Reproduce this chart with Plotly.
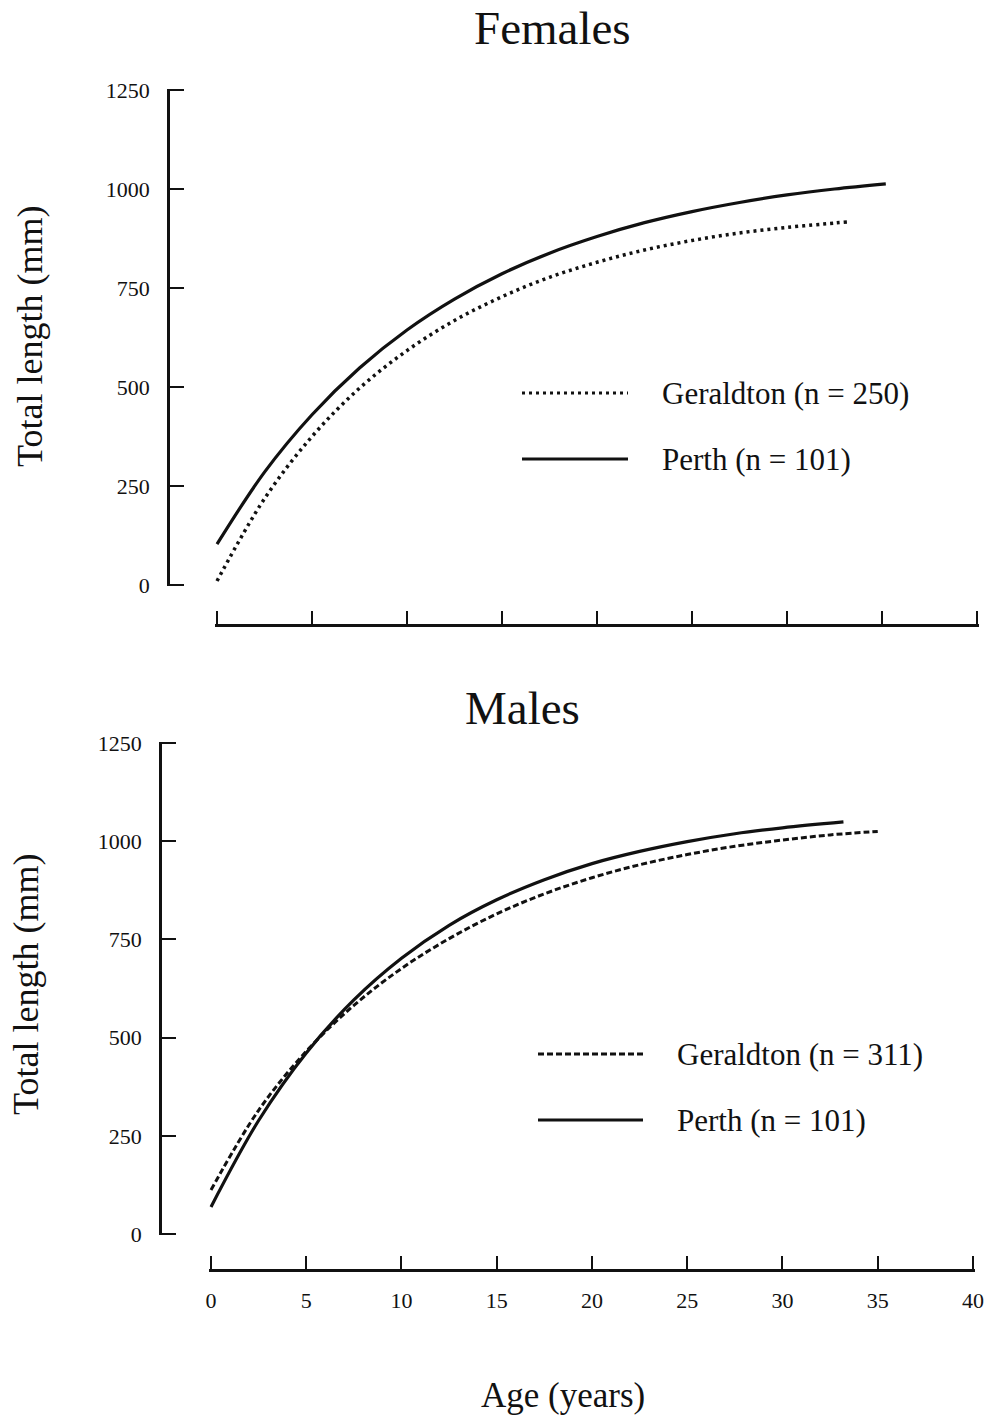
import plotly.graph_objects as go

# Page size in pixels
W, H = 993, 1419

# Ages (years) at which the fitted growth curves are listed
fem_perth_age = [0, 2.5, 5, 7.5, 10, 12.5, 15, 17.5, 20, 22.5, 25, 27.5, 30, 32.5, 35.2]
fem_perth_len = [103, 285, 430, 548, 644, 722, 786, 838, 880, 915, 943, 966, 985, 1000, 1013]

fem_geral_age = [0, 2.5, 5, 7.5, 10, 12.5, 15, 17.5, 20, 22.5, 25, 27.5, 30, 32.5, 33.2]
fem_geral_len = [10, 218, 375, 497, 592, 668, 728, 777, 815, 846, 870, 889, 903, 914, 917]

male_perth_age = [0, 2.5, 5, 7.5, 10, 12.5, 15, 17.5, 20, 22.5, 25, 27.5, 30, 33.2]
male_perth_len = [69, 289, 461, 596, 702, 786, 851, 902, 943, 974, 999, 1019, 1034, 1049]

male_geral_age = [0, 2.5, 5, 7.5, 10, 12.5, 15, 17.5, 20, 22.5, 25, 27.5, 30, 32.5, 35]
male_geral_len = [112, 315, 465, 582, 676, 752, 815, 866, 907, 940, 966, 987, 1003, 1016, 1025]

x_ticks = [0, 5, 10, 15, 20, 25, 30, 35, 40]
y_ticks = [0, 250, 500, 750, 1000, 1250]

fem_labels = ["Geraldton (n = 250)", "Perth (n = 101)"]
male_labels = ["Geraldton (n = 311)", "Perth (n = 101)"]

FONT = "Liberation Serif, Times New Roman, serif"
INK = "#111111"


def px_x(p):
    return p / W


def px_y(p):
    return 1 - p / H


fig = go.Figure()

# Females panel (x/y), Males panel (x2/y2)
fig.add_trace(go.Scatter(x=fem_geral_age, y=fem_geral_len, mode="lines",
                         line=dict(color=INK, width=3.5, dash="3px,4px", shape="spline"),
                         xaxis="x", yaxis="y", showlegend=False))
fig.add_trace(go.Scatter(x=fem_perth_age, y=fem_perth_len, mode="lines",
                         line=dict(color=INK, width=3.2, shape="spline"),
                         xaxis="x", yaxis="y", showlegend=False))
fig.add_trace(go.Scatter(x=male_geral_age, y=male_geral_len, mode="lines",
                         line=dict(color=INK, width=3, dash="6px,3px", shape="spline"),
                         xaxis="x2", yaxis="y2", showlegend=False))
fig.add_trace(go.Scatter(x=male_perth_age, y=male_perth_len, mode="lines",
                         line=dict(color=INK, width=3.2, shape="spline"),
                         xaxis="x2", yaxis="y2", showlegend=False))

tick_font = dict(family=FONT, size=22, color=INK)

# small padding on the ranges keeps the end ticks drawn
XPAD, YPAD = 0.1, 3.0
xcommon = dict(range=[-XPAD, 40 + XPAD], tickvals=x_ticks, ticks="inside", ticklen=13,
               tickwidth=2, tickcolor=INK, showline=True, linecolor=INK, linewidth=2.5,
               showgrid=False, zeroline=False, tickfont=tick_font, anchor="free",
               automargin=False)
ycommon = dict(range=[-YPAD, 1250 + YPAD], tickvals=y_ticks, ticks="inside", ticklen=14,
               tickwidth=2, tickcolor=INK, showline=True, linecolor=INK, linewidth=2.5,
               showgrid=False, zeroline=False, tickfont=tick_font, anchor="free",
               ticklabelstandoff=13, automargin=False)


def xdom(p0, p40):
    u = (p40 - p0) / 40.0
    return [px_x(p0 - XPAD * u), px_x(p40 + XPAD * u)]


def ydom(p0, p1250):
    u = (p0 - p1250) / 1250.0
    return [px_y(p0 + YPAD * u), px_y(p1250 - YPAD * u)]


fig.update_layout(
    template="none",
    width=W, height=H,
    margin=dict(l=0, r=0, t=0, b=0, pad=0),
    paper_bgcolor="white", plot_bgcolor="white",
    xaxis=dict(xcommon, domain=xdom(217, 977), position=px_y(625),
               showticklabels=False),
    yaxis=dict(ycommon, domain=ydom(585, 90), position=px_x(168)),
    xaxis2=dict(xcommon, domain=xdom(211, 973), position=px_y(1270),
                ticklabelstandoff=10),
    yaxis2=dict(ycommon, domain=ydom(1234, 743), position=px_x(160)),
)

# Legend keys drawn as short line samples beside text
legend_rows = [
    (522, 628, 393, 660, fem_labels[0], "3px,4px"),
    (522, 628, 459, 660, fem_labels[1], "solid"),
    (538, 643, 1054, 675, male_labels[0], "6px,3px"),
    (538, 643, 1120, 675, male_labels[1], "solid"),
]
for x0, x1, yy, tx, label, dash in legend_rows:
    fig.add_shape(type="line", xref="paper", yref="paper",
                  x0=px_x(x0), x1=px_x(x1), y0=px_y(yy), y1=px_y(yy),
                  line=dict(color=INK, width=3, dash=dash))
    fig.add_annotation(text=label, xref="paper", yref="paper",
                       x=px_x(tx), y=px_y(yy), xanchor="left", yanchor="middle",
                       showarrow=False, font=dict(family=FONT, size=31, color=INK))

# Panel titles and axis titles
texts = [
    ("Females", 552, 28, 0, 47),
    ("Males", 522, 708, 0, 47),
    ("Total length (mm)", 30, 337, -90, 36),
    ("Total length (mm)", 26, 985, -90, 36),
    ("Age (years)", 563, 1395, 0, 35),
]
for t, x, y, ang, size in texts:
    fig.add_annotation(text=t, xref="paper", yref="paper", x=px_x(x), y=px_y(y),
                       xanchor="center", yanchor="middle", textangle=ang,
                       showarrow=False, font=dict(family=FONT, size=size, color=INK))

fig.write_html("out.html")
